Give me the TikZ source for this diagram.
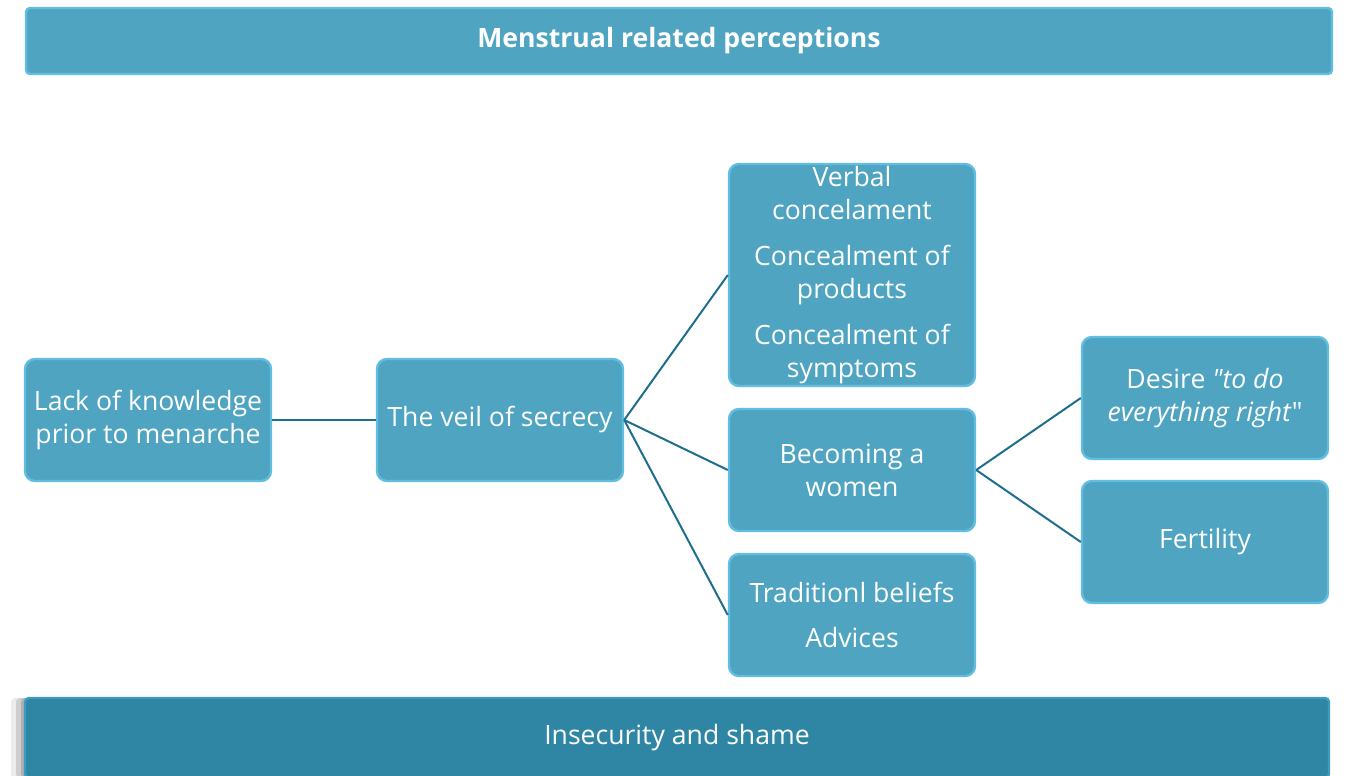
\documentclass[tikz,border=0pt]{standalone}
\usepackage{fontspec}
\setmainfont{Open Sans}[Ligatures=TeXOff]
\usetikzlibrary{shadows}
\definecolor{boxblue}{RGB}{79,164,194}
\definecolor{boxrim}{RGB}{98,190,225}
\definecolor{barblue}{RGB}{47,134,164}
\definecolor{barrim}{RGB}{60,156,192}
\definecolor{linkteal}{RGB}{30,110,140}
\tikzset{
  font={\fontsize{13.3pt}{16.5pt}\selectfont},
  topic/.style={rectangle, rounded corners=5pt, fill=boxblue, draw=boxrim,
    line width=1.2pt, text=white, align=center, inner sep=0pt,
    minimum width=123pt, minimum height=61pt},
  bar/.style={topic, rounded corners=2pt, minimum height=33pt},
  link/.style={draw=linkteal, line width=1pt}}

\begin{document}
\begin{tikzpicture}[x=0.5pt,y=-0.5pt]
\useasboundingbox (0,0) rectangle (1350,776);
% header and footer bars
\node[bar, minimum width=653pt] (percept) at (679,41) {\textbf{Menstrual related perceptions}};
\node[bar, fill=barblue, draw=barrim, minimum width=652pt, minimum height=40pt,
  drop shadow={shadow xshift=-7pt, shadow yshift=0pt, opacity=0.08, fill=black},
  drop shadow={shadow xshift=-4.5pt, shadow yshift=0pt, opacity=0.12, fill=black},
  drop shadow={shadow xshift=-2pt, shadow yshift=0pt, opacity=0.15, fill=black}]
  (shame) at (677,738) {Insecurity and shame};
% theme boxes
\node[topic] (lack) at (148,420) {Lack of knowledge\\prior to menarche};
\node[topic] (veil) at (500,420) {The veil of secrecy};
\node[topic, minimum height=111pt] (conceal) at (852,275)
  {Verbal\\concelament\\[6.5pt]Concealment of\\products\\[6.5pt]Concealment of\\symptoms};
\node[topic] (woman) at (852,470) {Becoming a\\women};
\node[topic] (belief) at (852,615) {Traditionl beliefs\\[6pt]Advices};
\node[topic] (desire) at (1205,398) {Desire \textit{"to do}\\\textit{everything right}"};
\node[topic] (fertil) at (1205,542) {Fertility};
% connectors
\draw[link] (lack.east) -- (veil.west);
\draw[link] (veil.east) -- (conceal.west);
\draw[link] (veil.east) -- (woman.west);
\draw[link] (veil.east) -- (belief.west);
\draw[link] (woman.east) -- (desire.west);
\draw[link] (woman.east) -- (fertil.west);
\end{tikzpicture}
\end{document}
